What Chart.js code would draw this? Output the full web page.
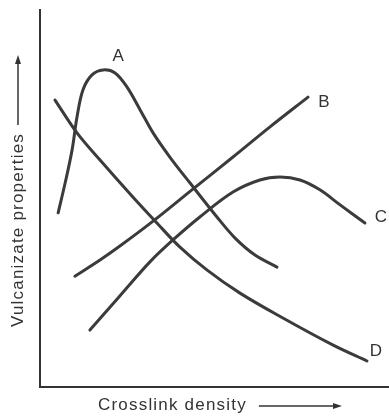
<!DOCTYPE html>
<html><head><meta charset="utf-8">
<script src="https://cdn.jsdelivr.net/npm/chart.js@4"></script>
<style>html,body{margin:0;padding:0;background:#fff;}#wrap{width:389px;height:417px;position:relative;}</style>
</head><body><div id="wrap"><canvas id="c"></canvas></div>
<script>
// Curve names (labels drawn next to curves)
const curveNames = ['A', 'B', 'C', 'D'];
// Axis titles
const xTitle = 'Crosslink density';
const yTitle = 'Vulcanizate properties';
// Series values (arbitrary units, 0-100 on both axes)
const aX = [5.2, 7.2, 9.2, 10.6, 12.3, 14.9, 18.1, 21.5, 24.9, 28.7, 32.4, 37.2, 43.0, 50.7, 55.9, 61.6, 67.9];
const aY = [46.2, 54.1, 62.9, 71.6, 78.8, 82.8, 84.1, 83.3, 79.6, 73.5, 67.4, 61.0, 54.1, 45.1, 39.5, 35.0, 31.8];
const bX = [10.0, 17.2, 22.9, 32.4, 43.8, 55.3, 65.9, 76.8];
const bY = [29.4, 33.7, 37.4, 44.0, 52.5, 61.0, 69.0, 76.9];
const cX = [14.3, 20.1, 24.9, 31.5, 38.1, 45.8, 55.3, 63.0, 68.8, 74.5, 80.2, 86.0, 93.1];
const cY = [15.1, 21.2, 26.3, 33.2, 39.0, 45.1, 51.7, 54.9, 55.7, 54.9, 52.3, 48.3, 43.5];
const dX = [4.3, 10.6, 17.2, 26.6, 33.5, 40.1, 47.9, 57.3, 69.6, 84.0, 93.7];
const dY = [76.1, 67.4, 60.2, 50.4, 43.5, 37.1, 31.0, 24.9, 18.3, 11.1, 6.9];

const toPts = (xs, ys) => xs.map((x, i) => ({x, y: ys[i]}));
const seriesX = [aX, bX, cX, dX];
const seriesY = [aY, bY, cY, dY];
const LINE = '#3b3b3b';
const FONT = '"Liberation Sans", Arial, sans-serif';

const datasets = curveNames.map((n, i) => ({
  label: n,
  data: toPts(seriesX[i], seriesY[i]),
  borderColor: LINE,
  borderWidth: 3,
  pointRadius: 0,
  showLine: true,
  tension: 0.35,
  fill: false,
  borderCapStyle: 'round',
  borderJoinStyle: 'round'
}));

// label anchor: which point and pixel offsets
const labelAnchor = { A: ['peak', 15, -14], B: ['last', 16, 5], C: ['last', 16, -6], D: ['last', 9, -10] };

const decor = {
  id: 'decor',
  afterDatasetsDraw(chart) {
    const {ctx, scales: {x, y}} = chart;
    ctx.save();
    ctx.fillStyle = '#333';
    ctx.font = '17px ' + FONT;
    ctx.textAlign = 'center';
    ctx.textBaseline = 'middle';
    curveNames.forEach((n, i) => {
      const xs = seriesX[i], ys = seriesY[i];
      const [mode, dx, dy] = labelAnchor[n];
      let k = xs.length - 1;
      if (mode === 'peak') k = ys.indexOf(Math.max(...ys));
      ctx.fillText(n, x.getPixelForValue(xs[k]) + dx, y.getPixelForValue(ys[k]) + dy);
    });
    ctx.restore();
  },
  afterDraw(chart) {
    const {ctx, chartArea} = chart;
    ctx.save();
    ctx.fillStyle = '#333';
    ctx.strokeStyle = '#333';
    ctx.font = '17px ' + FONT;
    ctx.letterSpacing = '1.2px';
    ctx.textBaseline = 'middle';
    // x title + arrow
    const ty = chartArea.bottom + 18;
    ctx.textAlign = 'left';
    const tx = 98;
    ctx.fillText(xTitle, tx, ty);
    const w = ctx.measureText(xTitle).width;
    const ax0 = tx + w + 12, ax1 = 342;
    ctx.lineWidth = 1.5;
    ctx.beginPath(); ctx.moveTo(ax0, ty + 1); ctx.lineTo(ax1 - 6, ty + 1); ctx.stroke();
    ctx.beginPath(); ctx.moveTo(ax1, ty + 1); ctx.lineTo(ax1 - 9, ty - 2); ctx.lineTo(ax1 - 9, ty + 4); ctx.closePath(); ctx.fill();
    // y title + arrow
    ctx.save();
    ctx.translate(18, 230);
    ctx.rotate(-Math.PI / 2);
    ctx.textAlign = 'center';
    ctx.fillText(yTitle, 0, 0);
    const hw = ctx.measureText(yTitle).width / 2;
    ctx.restore();
    const yx = 18;
    const y0 = 230 - hw - 8, y1 = 55;
    ctx.beginPath(); ctx.moveTo(yx, y0); ctx.lineTo(yx, y1 + 6); ctx.stroke();
    ctx.beginPath(); ctx.moveTo(yx, y1); ctx.lineTo(yx - 3, y1 + 9); ctx.lineTo(yx + 3, y1 + 9); ctx.closePath(); ctx.fill();
    ctx.restore();
  }
};

new Chart(document.getElementById('c'), {
  type: 'scatter',
  data: { datasets },
  options: {
    responsive: true,
    maintainAspectRatio: false,
    animation: false,
    layout: { padding: { top: 10, right: 0, left: 0, bottom: 0 } },
    plugins: { legend: { display: false }, tooltip: { enabled: false } },
    scales: {
      x: {
        type: 'linear', min: 0, max: 100,
        ticks: { display: false },
        grid: { display: false, drawTicks: false },
        border: { display: true, color: '#333', width: 2 },
        afterFit: s => { s.height = 30; }
      },
      y: {
        type: 'linear', min: 0, max: 100,
        ticks: { display: false },
        grid: { display: false, drawTicks: false },
        border: { display: true, color: '#333', width: 2 },
        afterFit: s => { s.width = 40; }
      }
    }
  },
  plugins: [decor]
});
</script>
</body></html>
